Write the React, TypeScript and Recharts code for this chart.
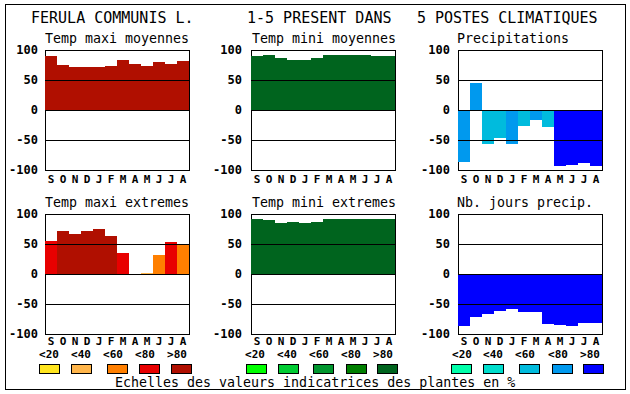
import React from 'react';
import { BarChart, Bar, XAxis, YAxis, Cell, ReferenceLine, ReferenceArea } from 'recharts';

const months = ['S', 'O', 'N', 'D', 'J', 'F', 'M', 'A', 'M', 'J', 'J', 'A'];
const yTicks = [-100, -50, 0, 50, 100];
const legendLabels = ['<20', '<40', '<60', '<80', '>80'];

const tmaxMoy = [90, 75, 72, 72, 72, 73, 83, 77, 73, 80, 77, 82];
const tmaxMoyLvl = [4, 4, 4, 4, 4, 4, 4, 4, 4, 4, 4, 4];
const tminMoy = [90, 92, 87, 83, 83, 87, 92, 92, 92, 92, 90, 90];
const tminMoyLvl = [4, 4, 4, 4, 4, 4, 4, 4, 4, 4, 4, 4];
const precip = [-86, 45, -56, -46, -56, -26, -16, -28, -93, -91, -88, -93];
const precipLvl = [3, 3, 2, 2, 3, 2, 3, 2, 4, 4, 4, 4];
const tmaxExt = [55, 72, 67, 72, 75, 63, 35, 0, 2, 32, 53, 50];
const tmaxExtLvl = [3, 4, 4, 4, 4, 4, 3, 0, 1, 2, 3, 2];
const tminExt = [92, 90, 85, 87, 85, 87, 92, 92, 92, 92, 92, 92];
const tminExtLvl = [4, 4, 4, 4, 4, 4, 4, 4, 4, 4, 4, 4];
const nbJours = [-87, -72, -67, -62, -58, -63, -63, -83, -85, -87, -81, -81];
const nbJoursLvl = [4, 4, 4, 4, 4, 4, 4, 4, 4, 4, 4, 4];

const reds = ['#FFE51E', '#FFB54A', '#FF7F00', '#E80000', '#B00F00'];
const greens = ['#00FF00', '#00CC33', '#00962E', '#007F00', '#00641E'];
const blues = ['#00FFAA', '#00DDCC', '#00BBDD', '#0099EE', '#0000FF'];

const mono = '"DejaVu Sans Mono", monospace';

type PanelProps = {
  values: number[];
  levels: number[];
  palette: string[];
  left: number;
  top: number;
  yTickSize: number;
  xTickSize: number;
};

function Panel({ values, levels, palette, left, top, yTickSize, xTickSize }: PanelProps) {
  const data = months.map((m, i) => ({ m, v: values[i], lvl: levels[i] }));
  return (
    <div style={{ position: 'absolute', left, top, shapeRendering: 'crispEdges' }}>
      <BarChart
        width={186}
        height={148}
        data={data}
        margin={{ top: 8, right: 2, left: 0, bottom: 0 }}
        barCategoryGap={0}
      >
        <XAxis
          dataKey="m"
          interval={0}
          axisLine={false}
          tickLine={false}
          tickSize={xTickSize}
          tickMargin={2}
          height={20}
          tick={{ fontSize: 11, fontFamily: mono, fontWeight: 'bold', fill: '#000' }}
        />
        <YAxis
          domain={[-100, 100]}
          ticks={yTicks}
          interval={0}
          axisLine={false}
          tickLine={false}
          tickSize={yTickSize}
          tickMargin={2}
          width={40}
          tick={{ fontSize: 12, fontFamily: mono, fontWeight: 'bold', fill: '#000' }}
        />
        <Bar dataKey="v" isAnimationActive={false}>
          {data.map((d, i) => (
            <Cell key={i} fill={palette[d.lvl]} />
          ))}
        </Bar>
        <ReferenceLine y={50} stroke="#000" strokeWidth={1} />
        <ReferenceLine y={0} stroke="#000" strokeWidth={1} />
        <ReferenceLine y={-50} stroke="#000" strokeWidth={1} />
        <ReferenceArea y1={-100} y2={100} fill="none" fillOpacity={0} stroke="#000" strokeWidth={1} strokeOpacity={1} ifOverflow="visible" />
      </BarChart>
    </div>
  );
}

const legendBoxX = [
  [39, 71, 107, 139, 171],
  [246, 278, 313, 346, 377],
  [451, 483, 519, 552, 583],
];
const legendLabelX = [
  [49, 81, 113, 145, 177],
  [255, 287, 319, 351, 383],
  [462, 493, 525, 558, 590],
];
const palettes = [reds, greens, blues];

export default function App() {
  return (
    <div style={{ position: 'absolute', left: 0, top: 0, width: 630, height: 394, background: '#fff' }}>
      <Panel values={tmaxMoy} levels={tmaxMoyLvl} palette={reds} left={5} top={42} yTickSize={5} xTickSize={3} />
      <Panel values={tminMoy} levels={tminMoyLvl} palette={greens} left={211} top={42} yTickSize={7} xTickSize={3} />
      <Panel values={precip} levels={precipLvl} palette={blues} left={418} top={42} yTickSize={6} xTickSize={3} />
      <Panel values={tmaxExt} levels={tmaxExtLvl} palette={reds} left={5} top={206} yTickSize={5} xTickSize={1} />
      <Panel values={tminExt} levels={tminExtLvl} palette={greens} left={211} top={206} yTickSize={7} xTickSize={1} />
      <Panel values={nbJours} levels={nbJoursLvl} palette={blues} left={418} top={206} yTickSize={6} xTickSize={1} />
      <svg
        width={630}
        height={394}
        style={{ position: 'absolute', left: 0, top: 0, pointerEvents: 'none' }}
      >
        <rect x={5.5} y={4.5} width={620} height={385} fill="none" stroke="#000" strokeWidth={1} />
        <g fontFamily={mono} fontSize={15} fill="#000">
          <text x={31} y={23}>FERULA COMMUNIS L.</text>
          <text x={247} y={23}>1-5 PRESENT DANS</text>
          <text x={417} y={23}>5 POSTES CLIMATIQUES</text>
        </g>
        <g fontFamily={mono} fontSize={13.3} fill="#000">
          <text x={45} y={43}>Temp maxi moyennes</text>
          <text x={252} y={43}>Temp mini moyennes</text>
          <text x={457} y={43}>Precipitations</text>
          <text x={45} y={206.5}>Temp maxi extremes</text>
          <text x={252} y={206.5}>Temp mini extremes</text>
          <text x={457} y={206.5}>Nb. jours precip.</text>
          <text x={115} y={386.5}>Echelles des valeurs indicatrices des plantes en %</text>
        </g>
        <g fontFamily={mono} fontSize={11} fontWeight="bold" fill="#000" textAnchor="middle">
          {legendLabelX.map((row, r) =>
            row.map((x, i) => (
              <text key={`l${r}-${i}`} x={x} y={358}>
                {legendLabels[i]}
              </text>
            ))
          )}
        </g>
        <g shapeRendering="crispEdges">
          {legendBoxX.map((row, r) =>
            row.map((x, i) => (
              <rect key={`b${r}-${i}`} x={x + 0.5} y={364.5} width={20} height={9} fill={palettes[r][i]} stroke="#000" strokeWidth={1} />
            ))
          )}
        </g>
      </svg>
    </div>
  );
}
